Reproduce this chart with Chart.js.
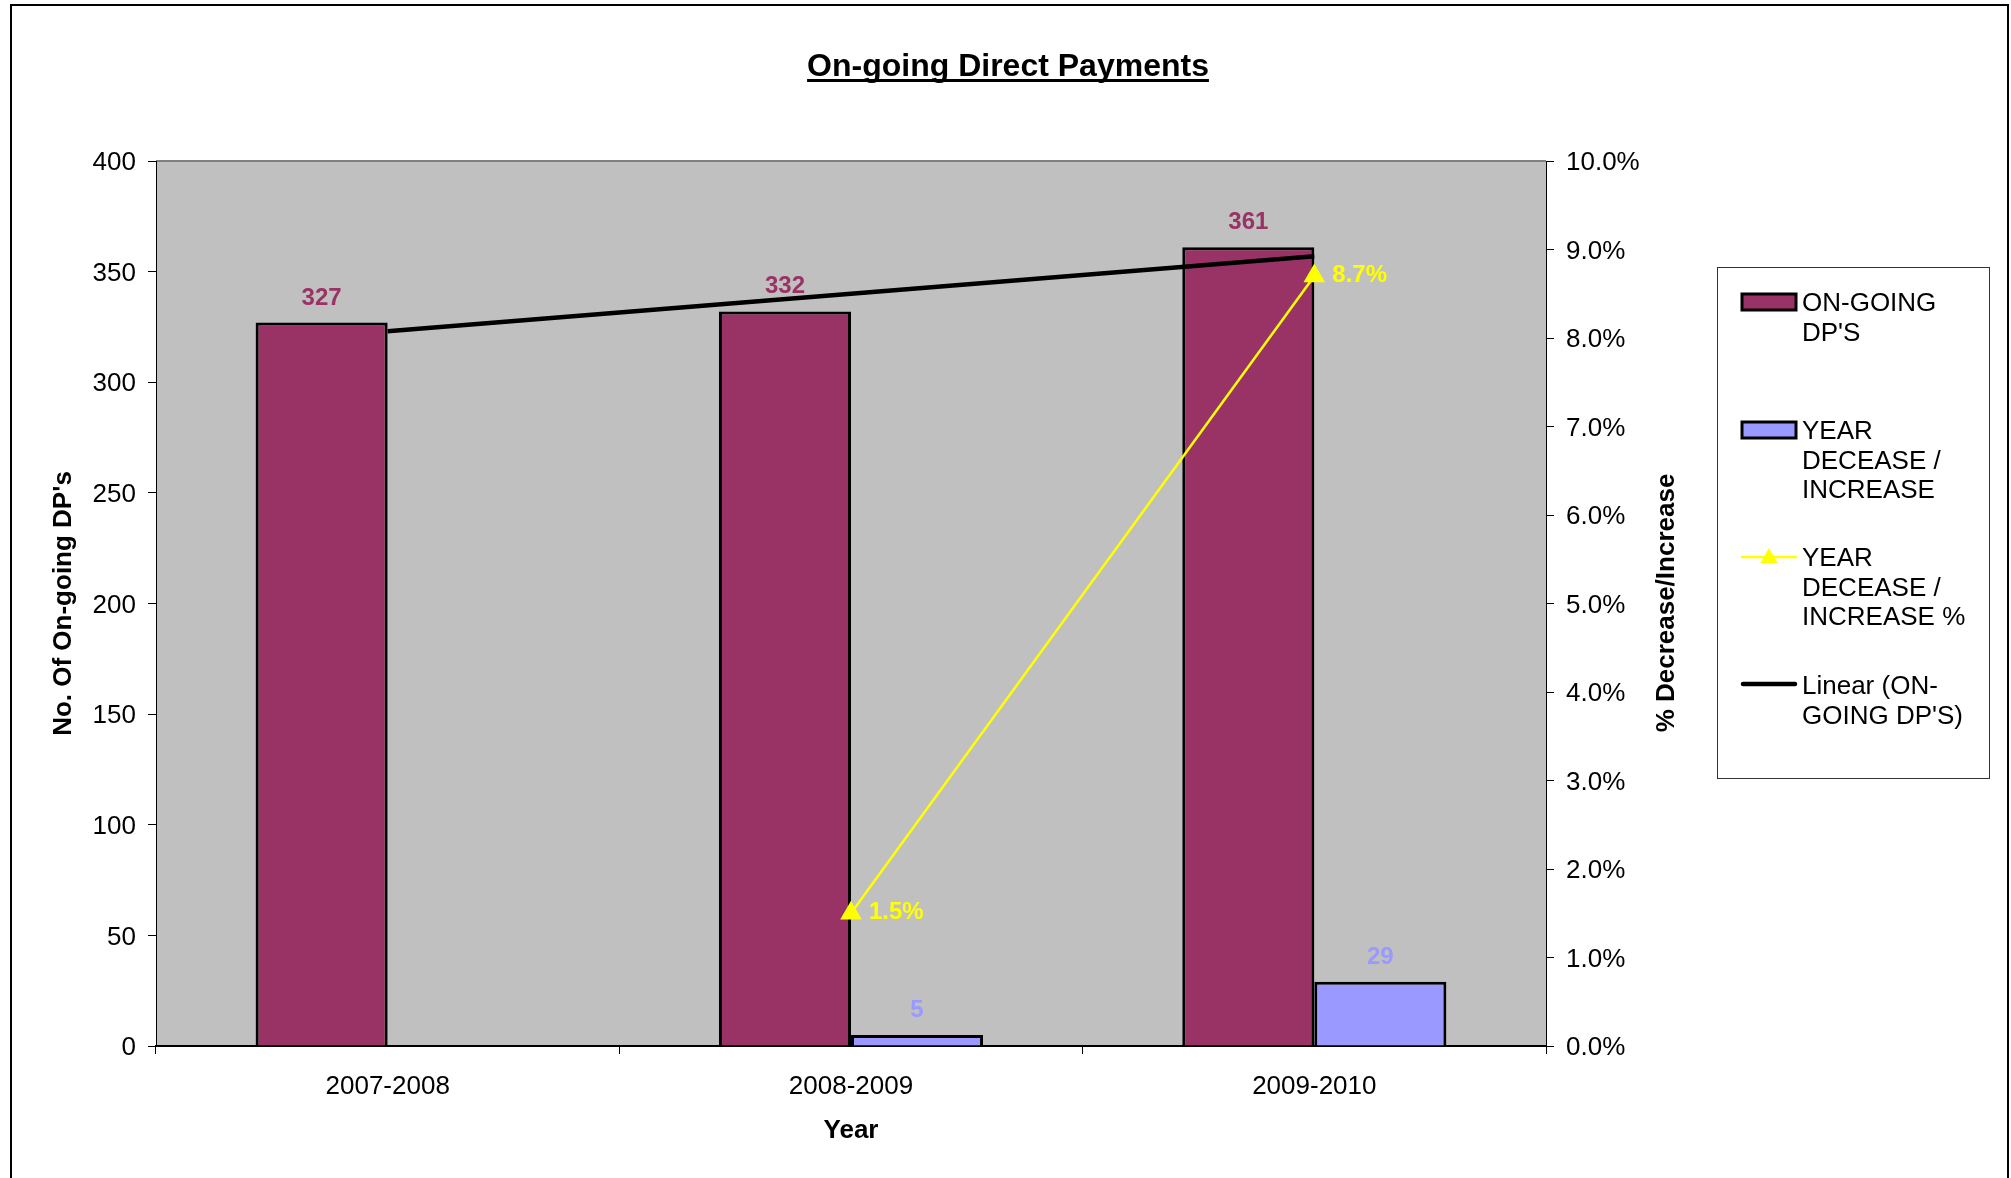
<!DOCTYPE html>
<html>
<head>
<meta charset="utf-8">
<title>On-going Direct Payments</title>
<script src="https://cdn.jsdelivr.net/npm/chart.js@4.4.1/dist/chart.umd.min.js"></script>
<style>
  html, body { margin: 0; padding: 0; background: #fff; }
  #wrap { width: 2011px; height: 1178px; }
</style>
</head>
<body>
<div id="wrap"><canvas id="dpChart" width="2011" height="1178"></canvas></div>
<script>
// yearly figures
const years = ['2007-2008', '2008-2009', '2009-2010'];
const ongoingDPs = [327, 332, 361];
const yearChange = [null, 5, 29];
const yearChangePct = [null, 1.5, 8.7];
const ongoingTrend = [323, 340, 357];

const legendLines = [
    ["ON-GOING", "DP'S"],
    ["YEAR", "DECEASE /", "INCREASE"],
    ["YEAR", "DECEASE /", "INCREASE %"],
    ["Linear (ON-", "GOING DP'S)"]
];

const FONT = '"Liberation Sans", Arial, sans-serif';
const MAROON = '#993366';
const PERIWINKLE = '#9999FF';
const YELLOW = '#FFFF00';

// grey plot area, outer frame and the plot's top edge
const plotBackground = {
    id: 'plotBackground',
    beforeDraw(chart) {
        const { ctx, chartArea: a } = chart;
        ctx.save();
        ctx.fillStyle = '#fff';
        ctx.fillRect(0, 0, chart.width, chart.height);
        ctx.strokeStyle = '#000';
        ctx.lineWidth = 2;
        ctx.strokeRect(11, 5, 1997, 1400);
        ctx.fillStyle = '#C0C0C0';
        ctx.fillRect(a.left, a.top, a.right - a.left, a.bottom - a.top);
        ctx.strokeStyle = '#808080';
        ctx.beginPath();
        ctx.moveTo(a.left, a.top);
        ctx.lineTo(a.right, a.top);
        ctx.stroke();
        ctx.restore();
    }
};

// value labels above bars and beside the % points
const valueLabels = {
    id: 'valueLabels',
    afterDatasetsDraw(chart) {
        const ctx = chart.ctx;
        const colours = [YELLOW, null, MAROON, PERIWINKLE];
        ctx.save();
        ctx.font = 'bold 24px ' + FONT;
        chart.data.datasets.forEach((ds, i) => {
            if (!colours[i]) return;
            const meta = chart.getDatasetMeta(i);
            meta.data.forEach((el, j) => {
                const v = ds.data[j];
                if (v == null) return;
                ctx.fillStyle = colours[i];
                if (ds.type === 'line') {
                    ctx.textAlign = 'left';
                    ctx.textBaseline = 'middle';
                    ctx.fillText(v.toFixed(1) + '%', el.x + 18, el.y - 1);
                } else {
                    ctx.textAlign = 'center';
                    ctx.textBaseline = 'alphabetic';
                    ctx.fillText(String(v), el.x, el.y - 18);
                }
            });
        });
        ctx.restore();
    }
};

function triangle(ctx, x, y, r) {
    ctx.beginPath();
    ctx.moveTo(x, y - r);
    ctx.lineTo(x + r * Math.sin(Math.PI / 3), y + r / 2);
    ctx.lineTo(x - r * Math.sin(Math.PI / 3), y + r / 2);
    ctx.closePath();
    ctx.fill();
}

// title, right axis title and the boxed legend
const decorations = {
    id: 'decorations',
    afterDraw(chart) {
        const ctx = chart.ctx;
        ctx.save();

        ctx.font = 'bold 32px ' + FONT;
        ctx.fillStyle = '#000';
        ctx.textAlign = 'center';
        ctx.textBaseline = 'alphabetic';
        const title = 'On-going Direct Payments';
        ctx.fillText(title, 1008, 76);
        const tw = ctx.measureText(title).width;
        ctx.fillRect(1008 - tw / 2, 79, tw, 3);

        ctx.save();
        ctx.translate(1667, 603);
        ctx.rotate(-Math.PI / 2);
        ctx.font = 'bold 26px ' + FONT;
        ctx.textBaseline = 'middle';
        ctx.fillText('% Decrease/Increase', 0, 0);
        ctx.restore();

        ctx.strokeStyle = '#333';
        ctx.lineWidth = 1;
        ctx.strokeRect(1717.5, 267.5, 272, 511);

        const ds = chart.data.datasets;
        // swatches
        ctx.lineWidth = 3;
        ctx.strokeStyle = '#000';
        ctx.fillStyle = ds[2].backgroundColor;
        ctx.fillRect(1742, 294, 54, 16);
        ctx.strokeRect(1742, 294, 54, 16);
        ctx.fillStyle = ds[3].backgroundColor;
        ctx.fillRect(1742, 422, 54, 16);
        ctx.strokeRect(1742, 422, 54, 16);

        ctx.strokeStyle = ds[0].borderColor;
        ctx.lineWidth = 2.5;
        ctx.beginPath();
        ctx.moveTo(1741, 557);
        ctx.lineTo(1797, 557);
        ctx.stroke();
        ctx.fillStyle = ds[0].pointBackgroundColor;
        triangle(ctx, 1769, 558, 10);

        ctx.strokeStyle = ds[1].borderColor;
        ctx.lineWidth = 4.5;
        ctx.lineCap = 'round';
        ctx.beginPath();
        ctx.moveTo(1743, 684);
        ctx.lineTo(1795, 684);
        ctx.stroke();

        const tops = [304, 432, 559, 687];
        ctx.font = '26px ' + FONT;
        ctx.fillStyle = '#000';
        ctx.textAlign = 'left';
        ctx.textBaseline = 'middle';
        legendLines.forEach((lines, i) => {
            lines.forEach((t, k) => ctx.fillText(t, 1802, tops[i] + k * 29.5));
        });

        ctx.restore();
    }
};

const tickFont = { family: FONT, size: 26 };
const axisTitleFont = { family: FONT, size: 26, weight: 'bold' };

new Chart(document.getElementById('dpChart'), {
    data: {
        labels: years,
        datasets: [
            {
                type: 'line',
                label: 'YEAR DECEASE / INCREASE %',
                data: yearChangePct,
                yAxisID: 'y1',
                borderColor: YELLOW,
                borderWidth: 2.5,
                pointStyle: 'triangle',
                pointRadius: 10,
                pointBackgroundColor: YELLOW,
                pointBorderColor: YELLOW,
                tension: 0,
                fill: false,
                order: 0
            },
            {
                type: 'line',
                label: "Linear (ON-GOING DP'S)",
                data: ongoingTrend,
                yAxisID: 'y',
                borderColor: '#000',
                borderWidth: 4.5,
                pointRadius: 0,
                tension: 0,
                fill: false,
                order: 1
            },
            {
                type: 'bar',
                label: "ON-GOING DP'S",
                data: ongoingDPs,
                yAxisID: 'y',
                backgroundColor: MAROON,
                borderColor: '#000',
                borderWidth: 3,
                categoryPercentage: 0.57,
                barPercentage: 1.0,
                order: 2
            },
            {
                type: 'bar',
                label: 'YEAR DECEASE / INCREASE',
                data: yearChange,
                yAxisID: 'y',
                backgroundColor: PERIWINKLE,
                borderColor: '#000',
                borderWidth: 3,
                categoryPercentage: 0.57,
                barPercentage: 1.0,
                order: 2
            }
        ]
    },
    options: {
        responsive: false,
        animation: false,
        events: [],
        layout: { padding: { top: 161, left: 0, right: 0, bottom: 0 } },
        plugins: {
            legend: { display: false },
            tooltip: { enabled: false },
            title: { display: false }
        },
        scales: {
            x: {
                grid: { display: true, drawOnChartArea: false, tickLength: 8, color: '#000', offset: true },
                border: { display: true, color: '#000', width: 2 },
                ticks: { color: '#000', font: tickFont, padding: 17, maxRotation: 0 },
                title: { display: true, text: 'Year', color: '#000', font: axisTitleFont, padding: { top: 0, bottom: 32 } },
                afterFit(scale) { scale.height = 132; }
            },
            y: {
                position: 'left',
                min: 0,
                max: 400,
                ticks: { stepSize: 50, color: '#000', font: tickFont, padding: 12, labelOffset: 2 },
                grid: { drawOnChartArea: false, tickLength: 8, color: '#000' },
                border: { display: true, color: '#000', width: 1 },
                title: { display: true, text: "No. Of On-going DP's", color: '#000', font: axisTitleFont, padding: { top: 48, bottom: 0 } },
                afterFit(scale) { scale.width = 156; }
            },
            y1: {
                position: 'right',
                min: 0,
                max: 10,
                ticks: {
                    stepSize: 1,
                    color: '#000',
                    font: tickFont,
                    padding: 12,
                    labelOffset: 2,
                    callback: v => v.toFixed(1) + '%'
                },
                grid: { drawOnChartArea: false, tickLength: 8, color: '#000' },
                border: { display: true, color: '#000', width: 1 },
                afterFit(scale) { scale.width = 465; }
            }
        }
    },
    plugins: [plotBackground, valueLabels, decorations]
});
</script>
</body>
</html>
